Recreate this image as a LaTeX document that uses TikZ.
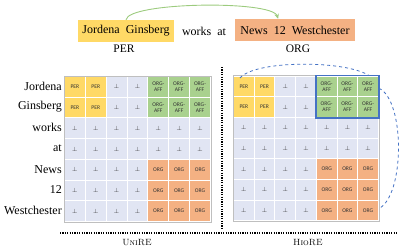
\documentclass[tikz,border=0pt]{standalone}
\usepackage{fontspec}
\newfontfamily\lab{Liberation Serif}
\newfontfamily\cellf{Carlito}
\usetikzlibrary{calc,arrows.meta}
\definecolor{cy}{HTML}{FFD966}
\definecolor{cg}{HTML}{A9D18E}
\definecolor{co}{HTML}{F4B183}
\definecolor{cb}{HTML}{E1E5F3}
\definecolor{arrg}{HTML}{9CCB7E}
\definecolor{blu}{HTML}{4472C4}
\tikzset{
  cell/.style={draw=white,line width=0.9pt,minimum width=20.8pt,minimum height=20.7pt,inner sep=0pt,anchor=north west,font=\cellf\fontsize{5.6}{6}\selectfont,text=black!80,align=center},
  rowlab/.style={anchor=east,font=\lab\fontsize{12}{12}\selectfont,inner sep=0pt},
  topbox/.style={minimum height=22pt,inner sep=2pt,font=\lab\fontsize{12}{12}\selectfont},
  dotline/.style={line width=1.6pt,dash pattern=on 1.2pt off 1.2pt},
  caplab/.style={font=\fontsize{9}{9}\selectfont,inner sep=0pt}
}
\newcommand{\celltype}[2]{%
  \ifnum#1<3
    \ifnum#2<3 PER\else\ifnum#2>4 ORG-\\AFF\else$\perp$\fi\fi
  \else\ifnum#1>4
    \ifnum#2>4 ORG\else$\perp$\fi
  \else $\perp$\fi\fi}
\newcommand{\cellcol}[2]{%
  \ifnum#1<3
    \ifnum#2<3 cy\else\ifnum#2>4 cg\else cb\fi\fi
  \else\ifnum#1>4
    \ifnum#2>4 co\else cb\fi
  \else cb\fi\fi}
\begin{document}
\begin{tikzpicture}[x=1pt,y=-1pt]
\useasboundingbox (0,0) rectangle (400,249);
% top sentence
\node[topbox,fill=cy,minimum width=96pt] (jg) at (126,31) {Jordena\ \ Ginsberg};
\node[font=\lab\fontsize{12}{12}\selectfont,inner sep=1pt] (wa) at (204,31) {works\ \ at};
\node[topbox,fill=co,minimum width=120pt] (nw) at (295,30) {News\ \ 12\ \ Westchester};
\node[font=\lab\fontsize{11.5}{11.5}\selectfont,inner sep=0pt] (per) at (124,49) {PER};
\node[font=\lab\fontsize{11.5}{11.5}\selectfont,inner sep=0pt] (org) at (298,49) {ORG};
\coordinate (nwt) at ($(nw.north west)!0.36!(nw.north east)$);
\draw[arrg,line width=0.9pt,-{Stealth[length=5pt,width=4.5pt]}] (jg.north) .. controls (128,2) and (272,0) .. (nwt);
% row labels
\foreach \w [count=\i] in {Jordena,Ginsberg,works,at,News,12,Westchester}{
  \node[rowlab] (r\i) at (62,{76+20.71*(\i-0.5)}) {\w};
}
% left grid
\foreach \i in {1,...,7}{
  \foreach \j in {1,...,7}{
    \edef\cc{\cellcol{\i}{\j}}
    \node[cell,fill=\cc] (L\i\j) at ({64+20.86*(\j-1)},{76+20.71*(\i-1)}) {\celltype{\i}{\j}};
  }
}
\draw[black!25,line width=0.6pt] (L11.north west) rectangle (L77.south east);
% right grid
\foreach \i in {1,...,7}{
  \foreach \j in {1,...,7}{
    \edef\cc{\cellcol{\i}{\j}}
    \node[cell,fill=\cc] (R\i\j) at ({233+20.71*(\j-1)},{75.5+20.71*(\i-1)}) {\celltype{\i}{\j}};
  }
}
\draw[black!25,line width=0.6pt] (R11.north west) rectangle (R77.south east);
\draw[blu,line width=1.6pt] (R15.north west) rectangle (R27.south east);
% dashed curves
\coordinate (dA) at ($(R11.north west)+(7,2.5)$);
\coordinate (dB) at ($(R17.north east)+(-10,0)$);
\draw[blu,dashed,line width=0.8pt] (dA) .. controls (255,60) and (345,60) .. (dB);
\coordinate (dC) at ($(R17.east)+(0,2)$);
\coordinate (dD) at ($(R77.east)+(0,-2)$);
\draw[blu,dashed,line width=0.8pt] (dC) .. controls (405,100) and (405,195) .. (dD);
% separators
\coordinate (v1) at (222,67);
\coordinate (v2) at (222,230);
\coordinate (h1) at (60,233);
\coordinate (h2) at (398,233);
\draw[dotline] (v1) -- (v2);
\draw[dotline] (h1) -- (h2);
\node[caplab] (uni) at (137,243) {\textsc{UniRE}};
\node[caplab] (hio) at (308,243) {\textsc{HioRE}};
\end{tikzpicture}
\end{document}
